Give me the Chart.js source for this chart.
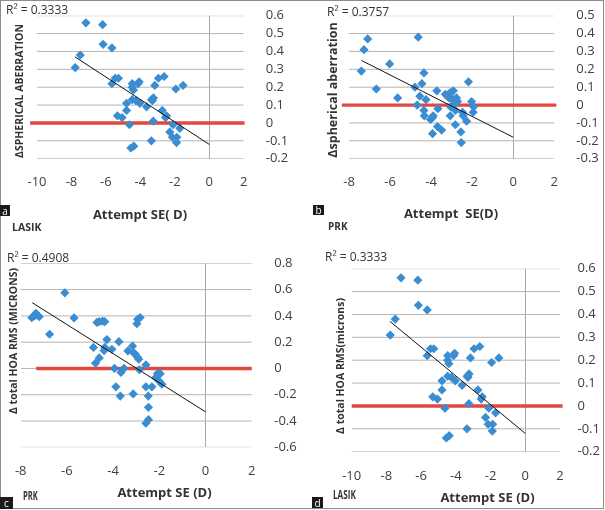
<!DOCTYPE html>
<html>
<head>
<meta charset="utf-8">
<script src="https://cdn.jsdelivr.net/npm/chart.js@4"></script>
<style>
  html, body { margin: 0; padding: 0; background: #fff; }
  #fig { position: relative; width: 605px; height: 510px; font-family: "Open Sans", sans-serif; color: #3a3a3a;
         display: grid; grid-template-columns: 300px 305px; grid-template-rows: 250px 260px; }
  #fig canvas { display: block; }
  .frame { position: absolute; left: 0; top: 0; width: 604px; height: 509px; box-sizing: border-box; border: 1px solid #8c8c8c; pointer-events: none; }
  .t { position: absolute; white-space: pre; line-height: 1; }
  .c { transform: translate(-50%, -50%); }
  .l { transform: translateY(-50%); transform-origin: left center; }
  .r90 { transform: translate(-50%, -50%) rotate(-90deg); }
  .box { position: absolute; background: #1a1a1a; color: #fff; font-size: 10px; line-height: 1; display: flex; align-items: center; justify-content: center; }
</style>
</head>
<body>
<div id="fig">
  <canvas id="chartA" width="300" height="250"></canvas>
  <canvas id="chartB" width="305" height="250"></canvas>
  <canvas id="chartC" width="300" height="260"></canvas>
  <canvas id="chartD" width="305" height="260"></canvas>
  <div class="frame"></div>
</div>
<script>
// 坐标轴刻度
const seTicks10 = [-10, -8, -6, -4, -2, 0, 2];
const seTicks8 = [-8, -6, -4, -2, 0, 2];
const saTicksA = [-0.2, -0.1, 0, 0.1, 0.2, 0.3, 0.4, 0.5, 0.6];
const saTicksB = [-0.3, -0.2, -0.1, 0, 0.1, 0.2, 0.3, 0.4, 0.5];
const hoaTicksC = [-0.6, -0.4, -0.2, 0, 0.2, 0.4, 0.6, 0.8];
const hoaTicksD = [-0.2, -0.1, 0, 0.1, 0.2, 0.3, 0.4, 0.5, 0.6];

// LASIK (a 和 d 的点相同)
const lasikSE = [-7.16, -6.19, -6.16, -5.65, -7.49, -7.78, -5.46, -5.27, -5.65, -4.47, -4.07, -4.13, -4.4, -4.47,
  -3.16, -2.95, -2.62, -1.94, -1.52, -4.8, -4.47, -4.26, -4.03, -3.64, -3.3, -3.24, -3.35, -2.73, -2.48,
  -5.33, -5.06, -4.8, -4.63, -3.25, -2.1, -1.71, -2.29, -2.14, -1.88, -1.9, -3.36, -4.55, -4.38, -2.54];
const lasikDelta = [0.56, 0.55, 0.44, 0.42, 0.38, 0.31, 0.25, 0.25, 0.22, 0.22, 0.23, 0.22, 0.185, 0.2,
  0.21, 0.25, 0.26, 0.19, 0.21, 0.11, 0.13, 0.125, 0.11, 0.09, 0.125, 0.14, 0.13, 0.07, 0.04,
  0.04, 0.03, 0.07, -0.01, 0.01, -0.01, -0.03, -0.05, -0.08, -0.08, -0.11, -0.10, -0.14, -0.13, 0.03];
const lasikTrendX = [-7.8, 0];
const lasikTrendY = [0.37, -0.12];

// PRK 球差 (b)
const prkSaSE = [-4.63, -7.09, -7.27, -7.4, -6.02, -6.67, -5.63, -4.35, -4.45, -4.79, -4.55, -4.25, -4.68, -4.35,
  -4.33, -3.72, -3.67, -3.9, -4.03, -3.93, -3.69, -3.49, -3.93, -3.31, -3.13, -3.07, -2.92, -2.99, -2.87,
  -2.76, -2.71, -3.05, -2.82, -3.07, -2.47, -2.44, -2.82, -2.27, -2.55, -2.53, -2.18, -2.03, -1.93, -1.95, -2.89];
const prkSa = [0.38, 0.37, 0.31, 0.19, 0.23, 0.09, 0.04, 0.18, 0.12, 0.10, 0.05, 0.03, 0.0, -0.03,
  -0.06, 0.08, -0.02, -0.06, -0.08, -0.07, -0.12, -0.14, -0.16, 0.06, 0.04, 0.07, 0.08, 0.035, 0.03,
  0.04, 0.02, -0.01, -0.03, -0.06, -0.04, -0.06, -0.11, -0.09, -0.15, -0.21, 0.13, 0.02, -0.01, -0.04, 0.005];
const prkSaTrendX = [-7.4, 0];
const prkSaTrendY = [0.25, -0.18];

// PRK 总高阶像差 (c)
const prkHoaSE = [-7.52, -7.34, -7.4, -7.2, -6.75, -6.09, -5.69, -4.85, -4.76, -4.6, -4.7, -4.6, -4.46, -4.36,
  -4.27, -4.39, -4.36, -4.05, -3.75, -3.94, -3.88, -3.69, -3.66, -3.53, -3.36, -3.16, -3.12, -3.04, -2.94,
  -2.89, -2.94, -2.83, -2.97, -3.13, -2.86, -2.58, -2.58, -2.48, -2.47, -2.47, -2.58, -2.32, -2.08, -1.96,
  -2.16, -1.99, -1.89];
const prkHoa = [0.386, 0.42, 0.40, 0.394, 0.26, 0.575, 0.384, 0.16, 0.04, 0.08, 0.35, 0.356, 0.36, 0.356,
  0.22, 0.136, 0.16, 0.146, 0.204, 0.0, -0.14, -0.21, -0.03, 0.0, 0.133, 0.17, 0.12, 0.11, 0.085,
  0.07, 0.374, 0.387, 0.34, -0.194, -0.01, 0.027, -0.14, -0.21, -0.296, -0.39, -0.417, -0.14, -0.04, -0.04,
  -0.07, -0.1, -0.12];
const prkHoaTrendX = [-7.5, 0];
const prkHoaTrendY = [0.50, -0.33];

const blue = "#3a8dd0";
const gridGray = "#b4b4b4";

function pts(xs, ys) {
  return xs.map((x, i) => ({ x: x, y: ys[i] }));
}

function fmt(v) {
  return String(Math.round(v * 10) / 10);
}

// 画一个面板: box 是画布位置, plot 是绘图区 (页面坐标)
function makePanel(id, box, plot, xTicks, yTicks, se, vals, trendX, trendY, redX, yPad) {
  const canvas = document.getElementById(id);
  const yW = box.x + box.w - plot.R;
  const xH = box.y + box.h - plot.B;
  const xPad = plot.xLab - plot.B - 7.8;
  const xMin = xTicks[0];
  const xMax = xTicks[xTicks.length - 1];

  // 水平网格线, 每个 y 刻度一条
  const gridSets = yTicks.map((v) => ({
    data: [{ x: xMin, y: v }, { x: xMax, y: v }],
    showLine: true,
    borderColor: gridGray,
    borderWidth: 1,
    pointRadius: 0,
    order: 5,
  }));

  return new Chart(canvas, {
    type: "scatter",
    data: {
      datasets: [
        {
          data: pts(trendX, trendY),
          showLine: true,
          borderColor: "#111",
          borderWidth: 1,
          pointRadius: 0,
          order: 0,
        },
        {
          data: pts(se, vals),
          pointStyle: "rectRot",
          pointRadius: 4.6,
          pointBackgroundColor: blue,
          pointBorderWidth: 0,
          order: 1,
        },
        {
          data: pts(redX, [0, 0]),
          showLine: true,
          borderColor: "#e2493e",
          borderWidth: 3.4,
          pointRadius: 0,
          clip: false,
          order: 2,
        },
      ].concat(gridSets),
    },
    options: {
      responsive: false,
      animation: false,
      devicePixelRatio: 1,
      layout: { padding: { left: plot.L - box.x, top: plot.T - box.y, right: 0, bottom: 0 } },
      plugins: { legend: { display: false }, tooltip: { enabled: false } },
      scales: {
        x: {
          type: "linear",
          min: xMin,
          max: xMax,
          afterBuildTicks: (s) => { s.ticks = xTicks.map((v) => ({ value: v })); },
          afterFit: (s) => { s.height = xH; s.paddingLeft = 0; s.paddingRight = 0; },
          grid: {
            color: (c) => (c.tick && c.tick.value === 0 ? "#a8a8a8" : "rgba(0,0,0,0)"),
            drawTicks: false,
          },
          border: { display: false },
          ticks: {
            autoSkip: false,
            maxRotation: 0,
            padding: xPad,
            color: "#404040",
            font: { family: "Open Sans", size: 13 },
            callback: (v) => fmt(v),
          },
        },
        y: {
          type: "linear",
          position: "right",
          min: yTicks[0],
          max: yTicks[yTicks.length - 1],
          afterBuildTicks: (s) => { s.ticks = yTicks.map((v) => ({ value: v })); },
          afterFit: (s) => { s.width = yW; s.paddingTop = 0; s.paddingBottom = 0; },
          grid: { display: false },
          border: { display: false },
          ticks: {
            autoSkip: false,
            crossAlign: "near",
            padding: yPad,
            color: "#404040",
            font: { family: "Open Sans", size: 13 },
            callback: (v) => fmt(v),
          },
        },
      },
    },
  });
}

makePanel("chartA", { x: 0, y: 0, w: 300, h: 250 }, { L: 37, R: 243.7, T: 15.7, B: 158.7, xLab: 182.3 },
  seTicks10, saTicksA, lasikSE, lasikDelta, lasikTrendX, lasikTrendY, [-10.4, 2.05], 14);
makePanel("chartB", { x: 300, y: 0, w: 305, h: 250 }, { L: 349, R: 554.3, T: 15.7, B: 158.7, xLab: 182.7 },
  seTicks8, saTicksB, prkSaSE, prkSa, prkSaTrendX, prkSaTrendY, [-8.35, 2.1], 14);
makePanel("chartC", { x: 0, y: 250, w: 300, h: 260 }, { L: 20.7, R: 251.7, T: 263.3, B: 447.3, xLab: 471.7 },
  seTicks8, hoaTicksC, prkHoaSE, prkHoa, prkHoaTrendX, prkHoaTrendY, [-7.33, 2], 14.5);
makePanel("chartD", { x: 300, y: 250, w: 305, h: 260 }, { L: 351.7, R: 560, T: 268.7, B: 451.7, xLab: 476.7 },
  seTicks10, hoaTicksD, lasikSE, lasikDelta, lasikTrendX, lasikTrendY, [-10, 2.15], 9.5);

// 文字标签
const fig = document.getElementById("fig");
function addText(text, x, y, cls, style) {
  const d = document.createElement("div");
  d.className = "t " + cls;
  d.textContent = text;
  d.style.left = x + "px";
  d.style.top = y + "px";
  Object.assign(d.style, style || {});
  fig.appendChild(d);
  return d;
}
function addBox(letter, x, y, w, h) {
  const d = document.createElement("div");
  d.className = "box";
  d.textContent = letter;
  Object.assign(d.style, { left: x + "px", top: y + "px", width: w + "px", height: h + "px" });
  fig.appendChild(d);
}

const r2Style = { fontSize: "12px", color: "#333" };
addText("R² = 0.3333", 6, 10, "l", r2Style);
addText("R² = 0.3757", 327, 12, "l", r2Style);
addText("R² = 0.4908", 7, 258, "l", r2Style);
addText("R² = 0.3333", 325, 257, "l", r2Style);

const yt = { fontWeight: "700", fontSize: "10.5px", color: "#333" };
addText("ΔSPHERICAL ABERRATION", 19, 91, "r90", yt);
addText("Δspherical aberration", 333, 90, "r90", Object.assign({}, yt, { fontSize: "12.5px" }));
addText("Δ total HOA RMS (MICRONS)", 13, 341, "r90", yt);
addText("Δ total HOA RMS(microns)", 340, 366, "r90", yt);

const xt = { fontWeight: "700", fontSize: "13px", color: "#333" };
addText("Attempt SE( D)", 140, 214, "c", xt);
addText("Attempt  SE(D)", 451, 213, "c", xt);
addText("Attempt SE (D)", 164.5, 492, "c", xt);
addText("Attempt SE (D)", 487.5, 496.5, "c", xt);

const gt = { fontWeight: "700", fontSize: "10.5px", color: "#333" };
addText("LASIK", 12, 226.5, "l", gt);
addText("PRK", 328, 225.5, "l", Object.assign({}, gt, { fontSize: "10px" }));
addText("PRK", 22.7, 496, "l", Object.assign({}, gt, { fontSize: "11.5px", transform: "translateY(-50%) scaleX(0.66)" }));
addText("LASIK", 332.7, 494.7, "l", Object.assign({}, gt, { fontSize: "12px", transform: "translateY(-50%) scaleX(0.68)" }));

addBox("a", 0, 205, 10, 11);
addBox("b", 313, 205, 11, 10);
addBox("c", 0, 497, 13, 12);
addBox("d", 312, 497, 11, 11);
</script>
</body>
</html>
